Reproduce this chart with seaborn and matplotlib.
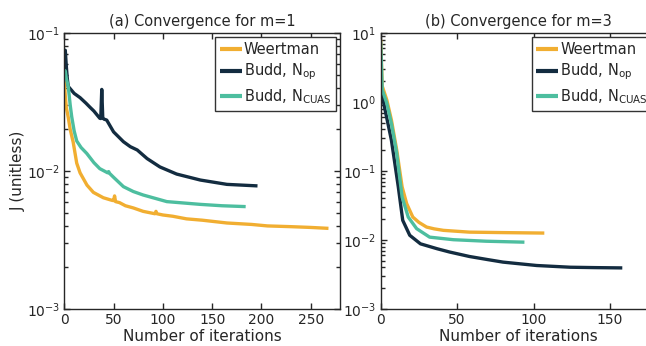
import numpy as np
import pandas as pd
import matplotlib
matplotlib.use("Agg")
import matplotlib.pyplot as plt
import matplotlib.ticker as mticker
import seaborn as sns

# ---------------- data ----------------
series_names = ["Weertman", "Budd, N$_{\\mathrm{op}}$", "Budd, N$_{\\mathrm{CUAS}}$"]
colors = ["#F1AE31", "#132C40", "#4DBE9F"]

# panel (a) m=1
a_weert_it = [0, 1, 2, 4, 6, 9, 12.6, 16, 23, 29.5, 39.6, 48, 50, 51, 52, 56, 62, 70, 80, 92, 93, 94, 100, 110, 124, 140, 165, 190, 206, 230, 250, 268]
a_weert_J = [0.045, 0.035, 0.029, 0.0245, 0.020, 0.0162, 0.0114, 0.0097, 0.0079, 0.0070, 0.0064, 0.00614, 0.0061, 0.0066, 0.0060, 0.0059, 0.0056, 0.0054, 0.0051, 0.0049, 0.0051, 0.0049, 0.0048, 0.0047, 0.0045, 0.0044, 0.0042, 0.0041, 0.0040, 0.00395, 0.0039, 0.00384]

a_nop_it = [0, 1, 2, 3, 4, 7, 10, 16, 22, 26, 30, 36, 37, 38, 39, 40, 43, 50, 60, 67, 74, 84, 97, 114, 138, 165, 196]
a_nop_J = [0.074, 0.075, 0.058, 0.047, 0.041, 0.0387, 0.0365, 0.0340, 0.0310, 0.0290, 0.0272, 0.0241, 0.0240, 0.039, 0.0245, 0.0238, 0.0234, 0.0192, 0.0163, 0.0150, 0.0142, 0.0123, 0.0107, 0.0095, 0.0086, 0.0080, 0.0078]

a_cuas_it = [0, 1, 2, 4, 6, 7.5, 10, 12.6, 17, 22.8, 30, 36, 44, 45, 46, 50, 60, 70, 80, 104, 138, 160, 184]
a_cuas_J = [0.054, 0.053, 0.047, 0.041, 0.030, 0.0248, 0.0195, 0.0165, 0.0148, 0.0134, 0.0115, 0.0104, 0.0097, 0.0099, 0.0096, 0.0090, 0.0077, 0.0071, 0.0067, 0.0060, 0.00573, 0.0056, 0.00552]

# panel (b) m=3
b_weert_it = [0, 1, 4, 7, 10.5, 14, 17, 21, 25, 30, 35, 41, 58, 80, 107]
b_weert_J = [8.0, 1.7, 1.07, 0.55, 0.20, 0.059, 0.0336, 0.0215, 0.0180, 0.0154, 0.0145, 0.0138, 0.0130, 0.0128, 0.0126]

b_nop_it = [0, 2.4, 7, 11.5, 14.4, 19, 26, 37, 45, 58, 70, 80, 102, 124, 140, 158]
b_nop_J = [1.7, 0.86, 0.28, 0.059, 0.0193, 0.0117, 0.0088, 0.00746, 0.0067, 0.00577, 0.0052, 0.00478, 0.00427, 0.00403, 0.00398, 0.00394]

b_cuas_it = [0, 1, 4, 7, 10.5, 14, 18, 23.5, 32, 47.5, 69, 94]
b_cuas_J = [7.5, 1.5, 0.96, 0.49, 0.18, 0.042, 0.0215, 0.0146, 0.0110, 0.0101, 0.0096, 0.0093]

titles = ["(a) Convergence for m=1", "(b) Convergence for m=3"]
xlabel = "Number of iterations"
ylabel = "J (unitless)"
a_xticks = [0, 50, 100, 150, 200, 250]
b_xticks = [0, 50, 100, 150]


def make_df(its, Js):
    frames = []
    for name, it, J in zip(series_names, its, Js):
        frames.append(pd.DataFrame({"iter": it, "J": J, "series": name}))
    return pd.concat(frames, ignore_index=True)


df_a = make_df([a_weert_it, a_nop_it, a_cuas_it], [a_weert_J, a_nop_J, a_cuas_J])
df_b = make_df([b_weert_it, b_nop_it, b_cuas_it], [b_weert_J, b_nop_J, b_cuas_J])

# ---------------- style ----------------
sns.set_style("ticks")
plt.rcParams["font.family"] = ["DejaVu Sans"]
plt.rcParams["mathtext.fontset"] = "dejavusans"
txt = "#262626"

fig = plt.figure(figsize=(6.46, 3.46), dpi=100)
W, H = 646, 346
ax_w, ax_h = 276, 276
axA = fig.add_axes([64.3 / W, (H - 309) / H, ax_w / W, ax_h / H])
axB = fig.add_axes([380.7 / W, (H - 309) / H, ax_w / W, ax_h / H])

pal = dict(zip(series_names, colors))

for ax, df, title, xlim, xt, ylim in [
    (axA, df_a, titles[0], (0, 280), a_xticks, (1e-3, 1e-1)),
    (axB, df_b, titles[1], (0, 180.5), b_xticks, (1e-3, 1e1)),
]:
    sns.lineplot(data=df, x="iter", y="J", hue="series", hue_order=series_names,
                 palette=pal, estimator=None, sort=False, linewidth=2.4,
                 solid_capstyle="butt", ax=ax)
    ax.set_yscale("log")
    ax.set_xlim(*xlim)
    ax.set_ylim(*ylim)
    ax.set_xticks(xt)
    ax.xaxis.set_minor_locator(mticker.NullLocator())
    ax.yaxis.set_major_locator(mticker.LogLocator(base=10, numticks=10))
    ax.yaxis.set_minor_locator(mticker.FixedLocator(
        [m * 10.0 ** e for e in range(-3, 1) for m in range(2, 10)]))
    ax.yaxis.set_minor_formatter(mticker.NullFormatter())
    ax.set_title(title, fontsize=10.5, color=txt, pad=5)
    ax.set_xlabel(xlabel, fontsize=11, color=txt, labelpad=1)
    ax.set_ylabel("")
    ax.tick_params(which="both", direction="in", top=True, right=True,
                   left=True, bottom=True, colors=txt, labelsize=10)
    ax.tick_params(which="major", length=4.5, width=1.0, pad=3)
    ax.tick_params(axis="y", which="minor", length=3, width=1.0,
                   left=True, right=True)
    for s in ax.spines.values():
        s.set_color(txt)
        s.set_linewidth(1.0)
    handles, labels = ax.get_legend_handles_labels()
    leg = ax.legend(handles, labels, loc="upper right", fontsize=10.5,
                    frameon=True, fancybox=False, framealpha=1,
                    edgecolor="#333333", borderaxespad=0.3,
                    handlelength=1.5, handletextpad=0.15, borderpad=0.3,
                    labelspacing=0.35)
    leg.get_frame().set_linewidth(1.0)
    for t in leg.get_texts():
        t.set_color(txt)
    for l in leg.get_lines():
        l.set_linewidth(3)

axA.set_ylabel(ylabel, fontsize=11, color=txt, labelpad=1)

fig.savefig("out.png", dpi=100)
